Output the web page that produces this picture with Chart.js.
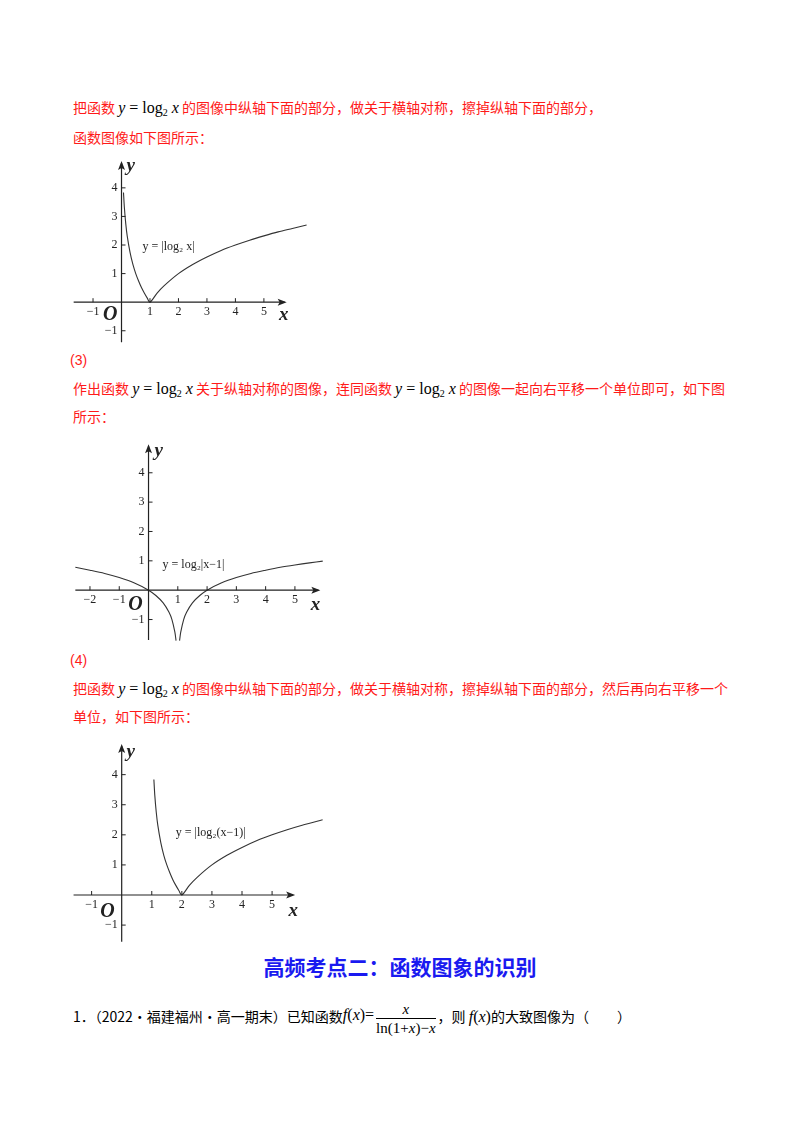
<!DOCTYPE html>
<html><head><meta charset="utf-8">
<script src="https://cdn.jsdelivr.net/npm/chart.js@4"></script>
<style>
body{margin:0;width:800px;height:1132px;background:#fff;position:relative;font-family:"Noto Sans CJK SC",sans-serif;}
.t{position:absolute;left:73px;font-size:14px;color:#ff1a1a;white-space:nowrap;line-height:17px;}
.m{font-family:"Liberation Serif",serif;color:#000;font-size:16px;}
.m i{font-style:italic}
sub{font-size:10px;vertical-align:-3px}
canvas{position:absolute}
.h{position:absolute;left:0;width:800px;text-align:center;top:951px;font-size:21px;font-weight:bold;color:#1a1af0;}
.q{position:absolute;left:73px;top:1000px;font-size:14px;color:#000;white-space:nowrap;}
</style></head><body>
<div class="t" style="top:99px">把函数 <span class="m"><i>y</i> = log<sub>2</sub> <i>x</i></span> 的图像中纵轴下面的部分，做关于横轴对称，擦掉纵轴下面的部分，</div>
<div class="t" style="top:129px">函数图像如下图所示：</div>
<div class="t" style="top:352px;left:70px;font-family:'Liberation Sans';font-size:14px">(3)</div>
<div class="t" style="top:380px;left:73px">作出函数 <span class="m"><i>y</i> = log<sub>2</sub> <i>x</i></span> 关于纵轴对称的图像，连同函数 <span class="m"><i>y</i> = log<sub>2</sub> <i>x</i></span> 的图像一起向右平移一个单位即可，如下图</div>
<div class="t" style="top:408px;left:73px">所示：</div>
<div class="t" style="top:652px;left:70px;font-family:'Liberation Sans';font-size:14px">(4)</div>
<div class="t" style="top:680px;left:73px">把函数 <span class="m"><i>y</i> = log<sub>2</sub> <i>x</i></span> 的图像中纵轴下面的部分，做关于横轴对称，擦掉纵轴下面的部分，然后再向右平移一个</div>
<div class="t" style="top:708px;left:73px">单位，如下图所示：</div>
<div class="h">高频考点二：函数图象的识别</div>
<div class="q">1．（2022·福建福州·高一期末）已知函数<span class="m" style="position:relative;top:-2px"><i>f</i>(<i>x</i>)=</span><span style="display:inline-block;vertical-align:middle;text-align:center;font-family:'Liberation Serif';font-size:15px;line-height:18px;margin:0 2px"><span style="display:block;border-bottom:1px solid #000;padding:0 3px"><i>x</i></span><span style="display:block">ln(1+<i>x</i>)−<i>x</i></span></span>，则 <span class="m"><i>f</i>(<i>x</i>)</span>的大致图像为（　　）</div>

<canvas id="c1"></canvas><canvas id="c2"></canvas><canvas id="c3"></canvas>
<script>
// Chart 1: y = |log2 x|
const x1 = [0.07,0.1,0.15,0.2,0.3,0.4,0.5,0.6,0.7,0.8,0.9,1,1.25,1.5,2,2.5,3,3.5,4,4.5,5,5.5,6,6.5];
const y1 = [3.84,3.32,2.74,2.32,1.74,1.32,1,0.74,0.51,0.32,0.15,0,0.32,0.58,1,1.32,1.58,1.81,2,2.17,2.32,2.46,2.58,2.70];
const xTicks1 = [-1,1,2,3,4,5];
const yTicks1 = [-1,1,2,3,4];
// Chart 2: y = log2|x-1| (as drawn)
const x2L = [-2.5,-2,-1.5,-1,-0.5,0,0.25,0.5,0.7,0.8,0.9,0.94];
const y2L = [0.78,0.68,0.57,0.43,0.25,0,-0.18,-0.43,-0.75,-1.0,-1.43,-1.72];
const x2R = [1.06,1.1,1.2,1.3,1.5,1.75,2,2.5,3,3.5,4,4.5,5,5.5,5.95];
const y2R = [-1.72,-1.43,-1.0,-0.75,-0.43,-0.18,0,0.25,0.43,0.57,0.68,0.78,0.86,0.93,0.99];
const xTicks2 = [-2,-1,1,2,3,4,5];
const yTicks2 = [-1,1,2,3,4];
// Chart 3: y = |log2(x-1)|
const x3 = [1.07,1.1,1.15,1.2,1.3,1.4,1.5,1.6,1.7,1.8,1.9,2,2.25,2.5,3,3.5,4,4.5,5,5.5,6,6.68];
const y3 = [3.84,3.32,2.74,2.32,1.74,1.32,1,0.74,0.51,0.32,0.15,0,0.32,0.58,1,1.32,1.58,1.81,2,2.17,2.32,2.5];
const xTicks3 = [-1,1,2,3,4,5];
const yTicks3 = [-1,1,2,3,4];

const pts=(xs,ys)=>xs.map((x,i)=>({x,y:ys[i]}));
const axesPlugin={id:'axes',afterDatasetsDraw(ch,a,o){
  const c=ch.ctx,X=ch.scales.x,Y=ch.scales.y,px=v=>X.getPixelForValue(v),py=v=>Y.getPixelForValue(v);
  c.save();c.strokeStyle='#222';c.fillStyle='#222';c.lineWidth=1.2;
  const x0=px(0),y0=py(0);
  c.beginPath();c.moveTo(px(o.xr[0]),y0);c.lineTo(px(o.xr[1]),y0);c.moveTo(x0,py(o.yr[0]));c.lineTo(x0,py(o.yr[1]));c.stroke();
  const ax=px(o.xr[1]),ay=py(o.yr[1]);
  c.beginPath();c.moveTo(ax+2,y0);c.lineTo(ax-7,y0-3.5);c.lineTo(ax-5,y0);c.lineTo(ax-7,y0+3.5);c.closePath();c.fill();
  c.beginPath();c.moveTo(x0,ay-2);c.lineTo(x0-3.5,ay+7);c.lineTo(x0,ay+5);c.lineTo(x0+3.5,ay+7);c.closePath();c.fill();
  c.lineWidth=1;c.font='12px "Liberation Serif"';c.textAlign='center';c.textBaseline='top';
  o.xt.forEach(v=>{c.beginPath();c.moveTo(px(v),y0);c.lineTo(px(v),y0-4);c.stroke();c.fillText(v<0?'−'+(-v):String(v),px(v),y0+4);});
  c.textAlign='right';c.textBaseline='middle';
  o.yt.forEach(v=>{c.beginPath();c.moveTo(x0,py(v));c.lineTo(x0+4,py(v));c.stroke();c.fillText(v<0?'−'+(-v):String(v),x0-4,py(v));});
  c.textAlign='center';c.font='bold italic 20px "Liberation Serif"';
  c.fillText('O',px(o.O[0]),py(o.O[1]));
  c.font='bold italic 19px "Liberation Serif"';
  c.fillText('x',px(o.xl[0]),py(o.xl[1]));
  c.fillText('y',px(o.yl[0]),py(o.yl[1]));
  c.textAlign='left';c.font='12px "Liberation Serif"';
  c.fillText(o.lab,px(o.lp[0]),py(o.lp[1]));
  c.restore();}};
function make(id,left,top,w,h,sets,xmin,xmax,ymin,ymax,opt){
  const cv=document.getElementById(id);
  const d=document.createElement('div');d.style.cssText=`position:absolute;left:${left}px;top:${top}px;width:${w}px;height:${h}px`;
  document.body.appendChild(d);d.appendChild(cv);cv.style.left='0';cv.style.top='0';
  new Chart(cv,{type:'scatter',data:{datasets:sets.map(s=>({data:s,showLine:true,borderColor:'#333',borderWidth:1.1,pointRadius:0,tension:0.3,clip:false}))},
    options:{responsive:true,maintainAspectRatio:false,animation:false,layout:{padding:0},
      plugins:{legend:{display:false},tooltip:{enabled:false},axes:opt},
      scales:{x:{type:'linear',min:xmin,max:xmax,display:false},y:{type:'linear',min:ymin,max:ymax,display:false}}},plugins:[axesPlugin]});
}
make('c1',63.8,152.5,257.4,192.6,[pts(x1,y1)],-2,7,-1.5,5.2,{xr:[-1.68,5.73],yr:[-1.4,4.87],xt:xTicks1,yt:yTicks1,O:[-0.4,-0.45],xl:[5.7,-0.45],yl:[0.32,4.75],lab:'y = |log₂ x|',lp:[0.74,1.92]});
make('c2',65.7,436.6,264.6,209.5,[pts(x2L,y2L),pts(x2R,y2R)],-2.8,6.2,-1.9,5.2,{xr:[-2.5,5.8],yr:[-1.7,4.9],xt:xTicks2,yt:yTicks2,O:[-0.45,-0.5],xl:[5.7,-0.5],yl:[0.35,4.75],lab:'y = log₂|x−1|',lp:[0.48,0.85]});
make('c3',66.6,737.7,265.8,208.7,[pts(x3,y3)],-1.8,7,-1.7,5.2,{xr:[-1.6,5.7],yr:[-1.55,4.95],xt:xTicks3,yt:yTicks3,O:[-0.47,-0.55],xl:[5.7,-0.55],yl:[0.3,4.75],lab:'y = |log₂(x−1)|',lp:[1.8,2.05]});
</script></body></html>
